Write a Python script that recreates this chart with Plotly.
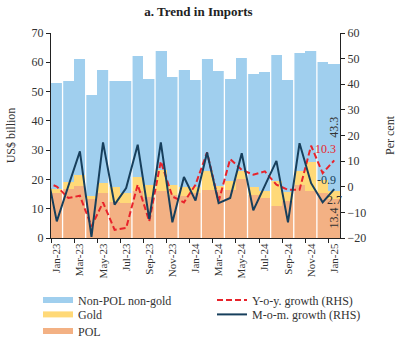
import plotly.graph_objects as go

# Monthly merchandise imports, US$ billion
months = ["Jan-23", "Feb-23", "Mar-23", "Apr-23", "May-23", "Jun-23", "Jul-23",
          "Aug-23", "Sep-23", "Oct-23", "Nov-23", "Dec-23", "Jan-24", "Feb-24",
          "Mar-24", "Apr-24", "May-24", "Jun-24", "Jul-24", "Aug-24", "Sep-24",
          "Oct-24", "Nov-24", "Dec-24", "Jan-25"]
pol = [15.5, 16.6, 17.9, 13.4, 15.4, 12.4, 11.9, 16.1, 14.1, 16.1, 14.8, 14.5, 15.5,
       16.5, 16.5, 16.5, 20.1, 14.6, 13.8, 10.8, 12.5, 18.2, 15.9, 15.4, 13.4]
gold = [1.1, 2.6, 3.5, 1.0, 3.5, 5.1, 3.3, 4.9, 4.1, 7.2, 3.4, 3.0, 1.9,
        6.5, 1.3, 2.8, 2.9, 2.7, 2.3, 8.5, 3.1, 4.8, 9.9, 4.5, 2.7]
non_pol = [36.3, 34.4, 39.7, 34.4, 38.5, 36.1, 38.4, 41.2, 36.1, 40.6, 36.8, 39.9, 36.5,
           38.1, 39.2, 35.0, 38.5, 38.7, 40.6, 43.2, 38.3, 40.2, 38.1, 40.2, 43.3]

# Growth rates (per cent), series starting from Dec-22
line_months = ["Dec-22"] + months
yoy = [1.9, 0.1, -4.4, -3.5, -15.5, -6.1, -16.8, -16.1, 0.8, -13.5, 9.9, -3.8, -6.1,
       0.8, 13.4, -5.7, 10.8, 6.6, 4.7, 6.0, 0.8, -1.2, -1.2, 16.0, 5.3, 10.3]
mom = [9.0, -13.5, 0.3, 13.8, -19.6, 17.3, -7.0, -0.5, 16.4, -12.6, 17.3, -13.9, 3.8,
       -5.4, 13.4, -6.4, -4.4, 13.1, -9.2, 0.5, 10.1, -13.9, 17.0, 1.4, -6.1, -0.9]

C_NONPOL = "#A0CFEE"
C_GOLD = "#FFD978"
C_POL = "#F3B184"
C_YOY = "#E8232B"
C_MOM = "#173F5C"
FONT = "Liberation Serif"
TXT = "#333333"

xb = list(range(len(months)))
xl = list(range(-1, len(months)))
totals = [p + g + n for p, g, n in zip(pol, gold, non_pol)]

fig = go.Figure()
for name, vals, col in [("POL", pol, C_POL), ("Gold", gold, C_GOLD),
                        ("Non-POL non-gold", non_pol, C_NONPOL)]:
    fig.add_trace(go.Bar(x=xb, y=vals, name=name, marker_color=col,
                         marker_line_width=0, showlegend=False, yaxis="y"))

# thin white separators between every second pair of bars
sx, sy = [], []
for k in range(1, len(months), 2):
    sx += [k - 0.5, k - 0.5, None]
    sy += [0, max(totals[k - 1], totals[k]), None]
fig.add_trace(go.Scatter(x=sx, y=sy, mode="lines", line=dict(color="white", width=1.3),
                         showlegend=False, hoverinfo="skip"))

fig.add_trace(go.Scatter(x=xl, y=yoy, yaxis="y2", mode="lines", showlegend=False,
                         line=dict(color=C_YOY, width=2, dash="6px,3px")))
fig.add_trace(go.Scatter(x=xl, y=mom, yaxis="y2", mode="lines", showlegend=False,
                         line=dict(color=C_MOM, width=2)))

# legend entries, one small legend box per row (placed in container coordinates)
legend_items = [
    ("Non-POL non-gold", dict(color=C_NONPOL, width=6), "legend", -0.045, 0.120),
    ("Gold", dict(color=C_GOLD, width=6), "legend2", -0.045, 0.078),
    ("POL", dict(color=C_POL, width=6), "legend3", -0.045, 0.029),
    ("Y-o-y. growth (RHS)", dict(color=C_YOY, width=2, dash="6px,3px"), "legend4", 0.557, 0.120),
    ("M-o-m. growth (RHS)", dict(color=C_MOM, width=2), "legend5", 0.557, 0.078),
]
legend_layout = {}
for name, line, lg, lx, ly in legend_items:
    fig.add_trace(go.Scatter(x=[None], y=[None], mode="lines", name=name,
                             line=line, legend=lg))
    legend_layout[lg] = dict(x=lx, y=ly, xref="paper", yref="container",
                             xanchor="left", yanchor="middle",
                             font=dict(family=FONT, size=12, color=TXT),
                             bgcolor="rgba(0,0,0,0)")

last = len(months) - 1
annots = [
    dict(x=last, y=pol[last] + gold[last] + non_pol[last] / 2, yref="y",
         text=f"{non_pol[last]:.1f}", textangle=-90, font=dict(color=TXT, size=12)),
    dict(x=last, y=pol[last] / 2, yref="y", text=f"{pol[last]:.1f}", textangle=-90,
         font=dict(color=TXT, size=12)),
    dict(x=last, y=pol[last] + gold[last] / 2, yref="y", text=f"{gold[last]:.1f}",
         yshift=-5, font=dict(color=TXT, size=12)),
    dict(x=last, y=mom[-1], yref="y2", text=f"{mom[-1]:.1f}", xanchor="right",
         yanchor="bottom", xshift=4, font=dict(color=C_MOM, size=12)),
    dict(x=last, y=yoy[-1], yref="y2", text=f"{yoy[-1]:.1f}", xanchor="right",
         yanchor="bottom", xshift=4, yshift=2, font=dict(color=C_YOY, size=12)),
]
for a in annots:
    a.update(xref="x", showarrow=False)

axis_common = dict(showline=True, linecolor="#222222", linewidth=1.3, ticks="outside",
                   ticklen=4, tickcolor="#222222", showgrid=False, zeroline=False,
                   automargin=False, tickfont=dict(family=FONT, size=12, color=TXT))

fig.update_layout(
    width=397, height=341,
    margin=dict(l=51, r=57, t=33, b=103),
    paper_bgcolor="white", plot_bgcolor="white",
    barmode="stack", bargap=0,
    font=dict(family=FONT, color=TXT),
    title=dict(text="<b>a. Trend in Imports</b>", x=0.5, xref="container",
               y=0.965, yanchor="middle", font=dict(family=FONT, size=13, color="#222222")),
    xaxis=dict(range=[-0.5, len(months) - 0.5], tickmode="array", tickvals=xb[::2],
               ticktext=months[::2], tickangle=-90, ticks="", showline=True,
               linecolor="#222222", linewidth=1.3, showgrid=False, zeroline=False,
               automargin=False, tickfont=dict(family=FONT, size=11, color=TXT),
               minor=dict(tick0=-0.5, dtick=2, ticks="outside", ticklen=4,
                          tickcolor="#222222", showgrid=False)),
    yaxis=dict(range=[0, 70], dtick=10,
               title=dict(text="US$ billion", font=dict(family=FONT, size=12, color=TXT),
                          standoff=13),
               **axis_common),
    yaxis2=dict(range=[-20, 60], dtick=10, overlaying="y", side="right",
                title=dict(text="Per cent", font=dict(family=FONT, size=12, color=TXT),
                           standoff=22),
                **axis_common),
    annotations=annots,
    **legend_layout,
)

fig.write_html("out.html")
